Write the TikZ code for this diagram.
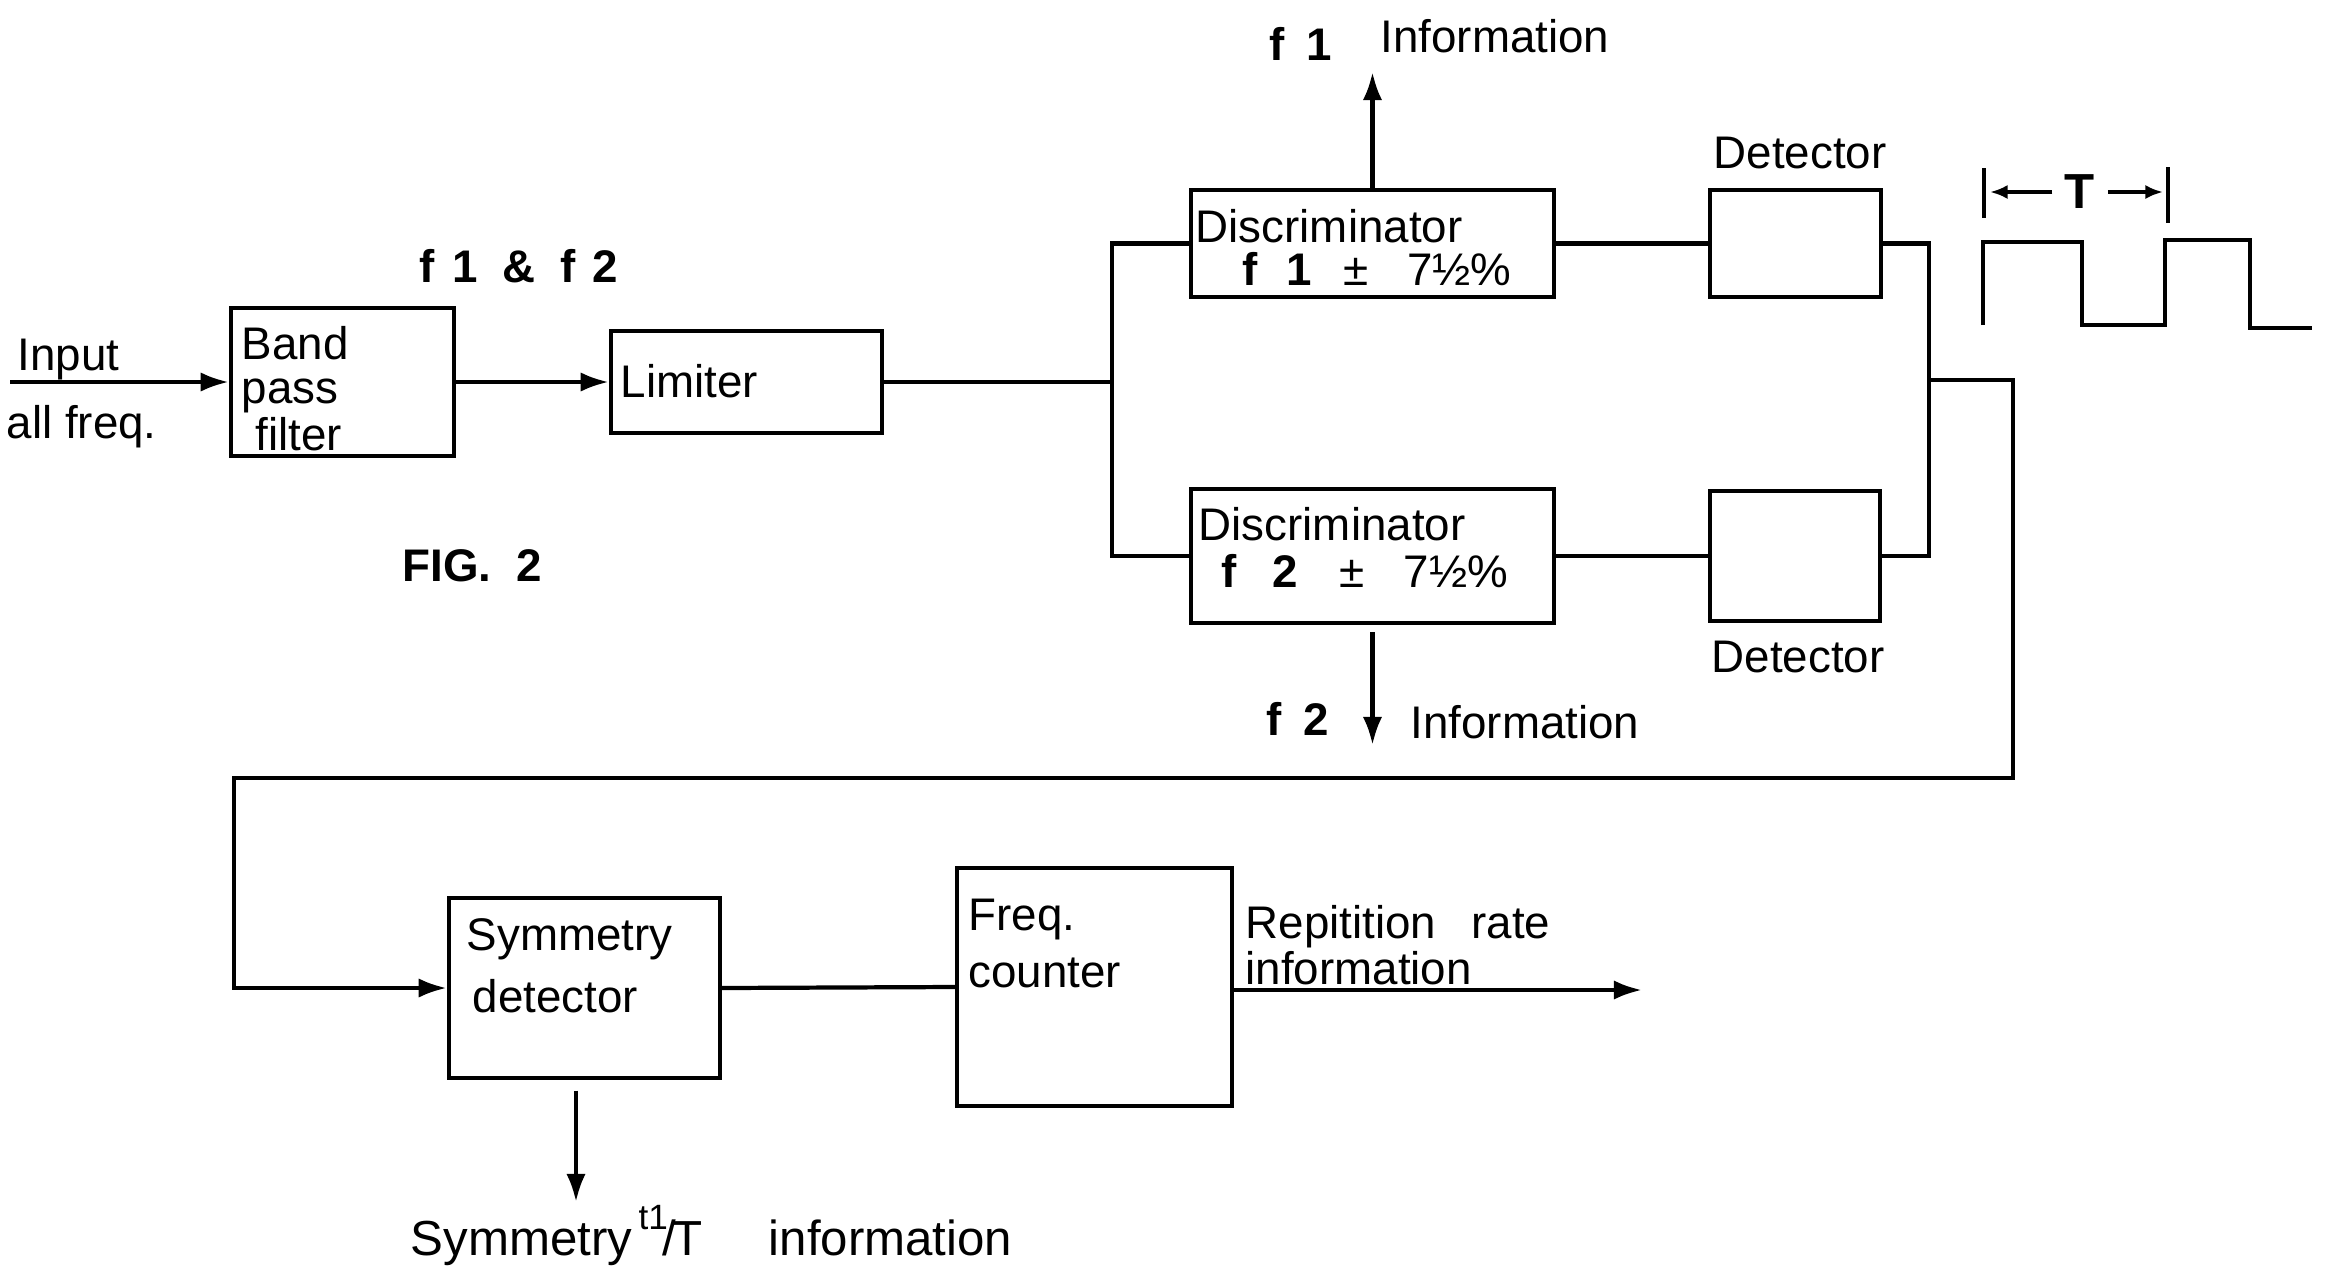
\documentclass[tikz,border=0pt]{standalone}
\usepackage{fontspec}
\setmainfont{Liberation Sans}
\usetikzlibrary{arrows.meta}
\begin{document}
\begin{tikzpicture}[x=0.01cm,y=-0.01cm,
  ln/.style={line width=1.2pt},
  arr/.style={ln,-{Latex[length=8pt,width=5.5pt]}},
  smarr/.style={line width=1.1pt,-{Latex[length=5pt,width=4pt]}},
  blk/.style={draw,ln,rectangle,inner sep=0pt},
  txt/.style={anchor=base west,inner sep=0pt,font=\fontsize{13}{15}\selectfont},
  btxt/.style={txt,font=\fontsize{13}{15}\selectfont\bfseries},
  ltxt/.style={txt,font=\fontsize{14}{16}\selectfont}]
\useasboundingbox (0,0) rectangle (2335,1272);
\fill[white] (0,0) rectangle (2335,1272);

% boxes
\node[blk,minimum width=2.23cm,minimum height=1.48cm] (bpf) at (342.5,382) {};
\node[blk,minimum width=2.71cm,minimum height=1.02cm] (lim) at (746.5,382) {};
\node[blk,minimum width=3.63cm,minimum height=1.07cm] (d1) at (1372.5,243.5) {};
\node[blk,minimum width=1.71cm,minimum height=1.07cm] (det1) at (1795.5,243.5) {};
\node[blk,minimum width=3.63cm,minimum height=1.34cm] (d2) at (1372.5,556) {};
\node[blk,minimum width=1.70cm,minimum height=1.30cm] (det2) at (1795,556) {};
\node[blk,minimum width=2.71cm,minimum height=1.80cm] (sd) at (584.5,988) {};
\node[blk,minimum width=2.75cm,minimum height=2.38cm] (fc) at (1094.5,987) {};

% texts
\node[txt] (in1) at (17,370) {Input};
\node[txt] (in2) at (6,438) {all freq.};
\node[btxt] (ff) at (419,282) {f\hspace{5pt}1\hspace{7pt}\&\hspace{7pt}f\hspace{5pt}2};
\node[txt] (band) at (241,359) {Band};
\node[txt] (pass) at (241,403) {pass};
\node[txt] (filt) at (255,450) {filter};
\node[txt] (limt) at (620,397) {Limiter};
\node[txt] (d1a) at (1195,242) {Discriminator};
\node[txt] (d1b) at (1242,285) {\textbf{f}\hspace{8pt}\textbf{1}\hspace{9pt}±\hspace{11pt}7½\%};
\node[btxt] (f1l) at (1269,60) {f\hspace{6pt}1};
\node[txt] (f1i) at (1380,52) {Information};
\node[txt] (det1l) at (1713,168) {Detector};
\node[txt] (d2a) at (1198,540) {Discriminator};
\node[txt] (d2b) at (1221,587) {\textbf{f}\hspace{10pt}\textbf{2}\hspace{12pt}±\hspace{11pt}7½\%};
\node[txt] (det2l) at (1711,672) {Detector};
\node[btxt] (f2l) at (1266,735) {f\hspace{6pt}2};
\node[txt] (f2i) at (1410,738) {Information};
\node[btxt] (fig) at (402,581) {FIG.\ \ 2};
\node[txt] (syma) at (466,950) {Symmetry};
\node[txt] (symb) at (472,1012) {detector};
\node[txt] (frqa) at (968,930) {Freq.};
\node[txt] (frqb) at (968,987) {counter};
\node[txt] (repa) at (1245,938) {Repitition\hspace{10pt}rate};
\node[txt] (repb) at (1245,984) {information};
\node[ltxt] (bsym) at (410,1255) {Symmetry};
\node[ltxt] (bt) at (638,1255) {\raisebox{1.0ex}{\fontsize{10}{11}\selectfont t1}\kern-1.5pt/\kern-1pt T};
\node[ltxt] (binf) at (768,1255) {information};
\node[font=\fontsize{14}{16}\selectfont\bfseries,inner sep=0pt] (tlab) at (2080,192) {T};

% coordinates
\coordinate (inS) at (10,382);
\coordinate (sp) at (1112,382);
\coordinate (cx) at (1929,380);
\coordinate (r1) at (2013,380);
\coordinate (r2) at (2013,778);
\coordinate (r3) at (234,778);
\coordinate (outE) at (1642,990);
\coordinate (f1tip) at (1372.5,72);
\coordinate (f2tip) at (1372.5,745);
\coordinate (sdtip) at (576,1202);
\coordinate (ta) at (1984,168);
\coordinate (tb) at (2168,167);

% connectors
\draw[arr] (inS) -- (bpf.west);
\draw[arr] (bpf.east) -- (lim.west);
\draw[ln] (lim.east) -- (sp);
\draw[ln] (d1.west) -| (sp) |- (d2.west);
\draw[ln] (d1.east) -- (det1.west);
\draw[ln] (d2.east) -- (det2.west);
\draw[ln] (det1.east) -| (cx) |- (det2.east);
\draw[arr] (cx) -- (r1) -- (r2) -- (r3) |- (sd.west);
\draw[ln] (sd.east) -- (fc.west);
\draw[arr] (fc.east |- outE) -- (outE);
\draw[arr] (d1.north) -- (f1tip);
\draw[arr,shorten <=2pt] (d2.south) -- (f2tip);
\draw[arr,shorten <=3pt] (sdtip |- sd.south) -- (sdtip);

% waveform
\draw[ln] (1983,325) -- (1983,242) -- (2082,242) -- (2082,325) -- (2165,325)
  -- (2165,240) -- (2250,240) -- (2250,328) -- (2312,328);
\draw[ln] (ta) -- ++(0,50);
\draw[ln] (tb) -- ++(0,56);
\draw[smarr] (tlab.west) ++(-12,0) -- (1990,192);
\draw[smarr] (tlab.east) ++(12,0) -- (2163,192);
\end{tikzpicture}
\end{document}
